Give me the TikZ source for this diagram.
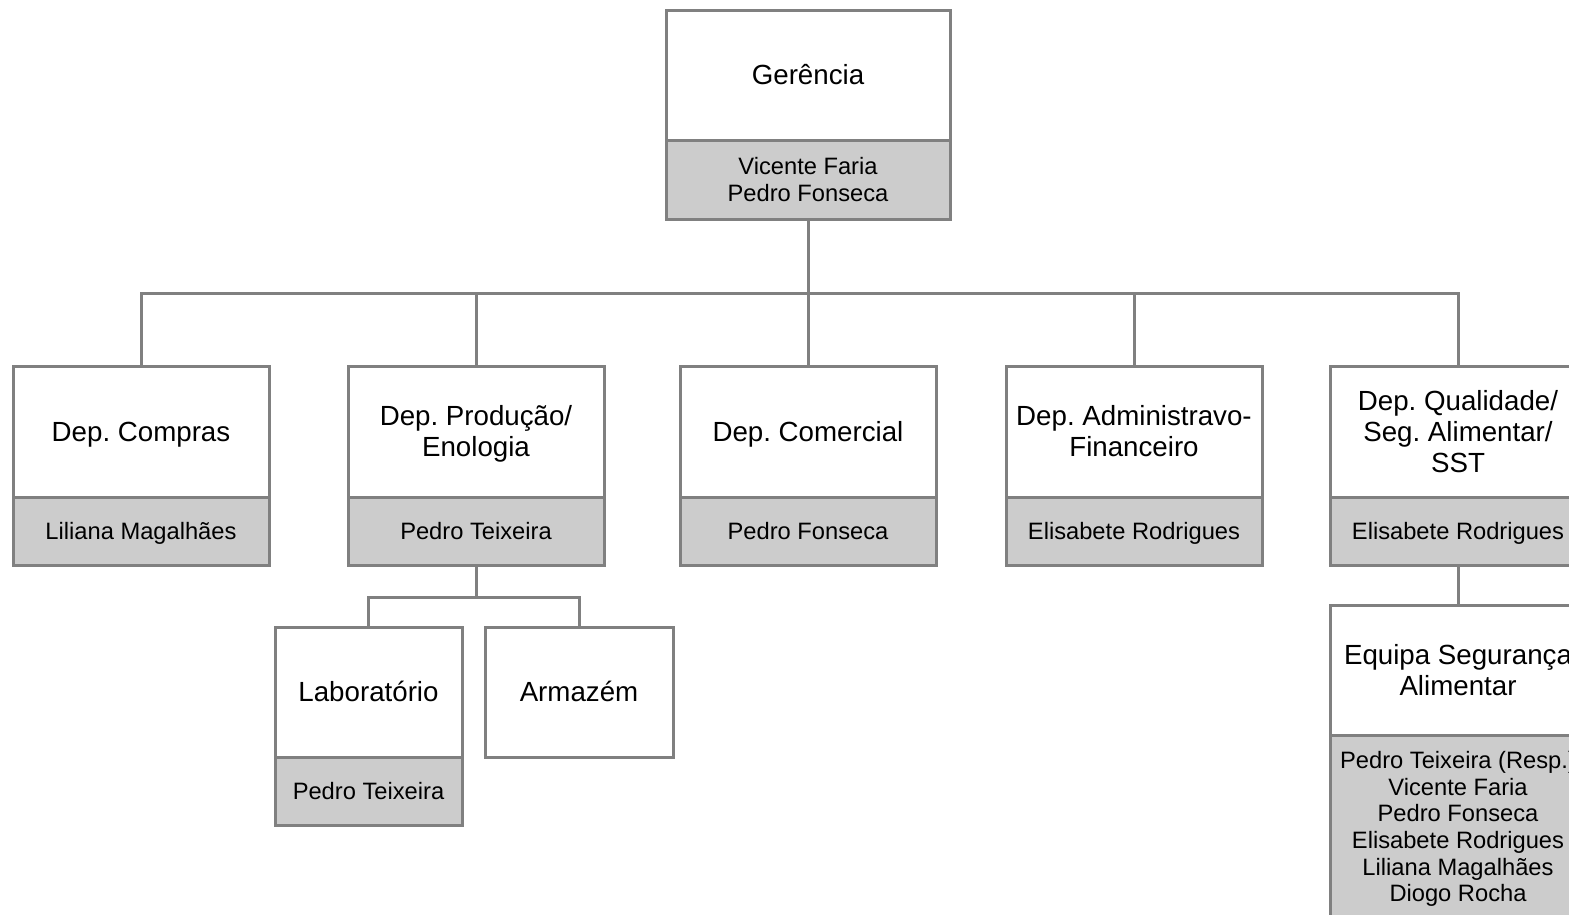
\documentclass[tikz,border=0pt]{standalone}
\usepackage{fontspec}
\setmainfont{Liberation Sans}
\frenchspacing
\definecolor{edgegray}{RGB}{128,128,128}
\definecolor{staffgray}{RGB}{204,204,204}
% strut spanning the font's ascent and descent, so text is centred on its line box
\newcommand\ascstrut{\rule[-0.212em]{0pt}{1.117em}}
\tikzset{
  boxtext/.style={align=center, inner sep=0pt, outer sep=0pt, anchor=north,
    draw=edgegray, line width=3pt,
    execute at begin node=\ascstrut, execute at end node=\ascstrut},
  head/.style={boxtext, fill=white,
    font=\fontsize{27.7pt}{31pt}\selectfont},
  staff/.style={boxtext, fill=staffgray,
    font=\fontsize{23.7pt}{26.7pt}\selectfont},
  depthead/.style={head, minimum width=256pt, minimum height=131pt},
  deptstaff/.style={staff, minimum width=256pt, minimum height=68pt},
  link/.style={draw=edgegray, line width=3pt}
}
\begin{document}
\begin{tikzpicture}[x=1pt, y=-1pt]
  \useasboundingbox (0,0) rectangle (1569,914);
  \clip (0,0) rectangle (1569,914);

  % management
  \node[head, minimum width=284pt, minimum height=130pt] (ger) at (808,10) {Gerência};
  \node[staff, minimum width=284pt, minimum height=79pt] (ger-s) at (ger.south) {\ascstrut Vicente Faria\\Pedro Fonseca};

  % departments
  \node[depthead] (comp) at (141,366) {Dep. Compras};
  \node[deptstaff] (comp-s) at (comp.south) {Liliana Magalhães};

  \node[depthead] (prod) at (476,366) {\ascstrut Dep. Produção/\\Enologia};
  \node[deptstaff] (prod-s) at (prod.south) {Pedro Teixeira};

  \node[depthead] (com) at (808,366) {Dep. Comercial};
  \node[deptstaff] (com-s) at (com.south) {Pedro Fonseca};

  \node[depthead] (adm) at (1134,366) {\ascstrut Dep. Administravo-\\Financeiro};
  \node[deptstaff] (adm-s) at (adm.south) {Elisabete Rodrigues};

  \node[depthead] (qual) at (1458,366) {\ascstrut Dep. Qualidade/\\Seg. Alimentar/\\SST};
  \node[deptstaff] (qual-s) at (qual.south) {Elisabete Rodrigues};

  % production units
  \node[head, minimum width=187pt, minimum height=130pt] (lab) at (368.5,627) {Laboratório};
  \node[staff, minimum width=187pt, minimum height=68pt] (lab-s) at (lab.south) {Pedro Teixeira};
  \node[head, minimum width=188pt, minimum height=130pt] (arm) at (579,627) {Armazém};

  % food safety team
  \node[head, minimum width=256pt, minimum height=130pt] (eq) at (1458,605) {\ascstrut Equipa Segurança\\Alimentar};
  \node[staff, minimum width=256pt, minimum height=184pt] (eq-s) at (eq.south)
    {\ascstrut Pedro Teixeira (Resp.)\\Vicente Faria\\Pedro Fonseca\\Elisabete Rodrigues\\Liliana Magalhães\\Diogo Rocha};

  % connectors
  \coordinate (bus) at (808,293);
  \coordinate (pbus) at (476,597);
  \draw[link] (ger-s.south) -- (ger-s.south |- bus);
  \draw[link] (comp.north) -- (comp.north |- bus) -- (qual.north |- bus) -- (qual.north);
  \draw[link] (prod.north) -- (prod.north |- bus);
  \draw[link] (com.north) -- (com.north |- bus);
  \draw[link] (adm.north) -- (adm.north |- bus);
  \draw[link] (prod-s.south) -- (pbus);
  \draw[link] (lab.north) -- (lab.north |- pbus) -- (arm.north |- pbus) -- (arm.north);
  \draw[link] (qual-s.south) -- (eq.north);
\end{tikzpicture}
\end{document}
